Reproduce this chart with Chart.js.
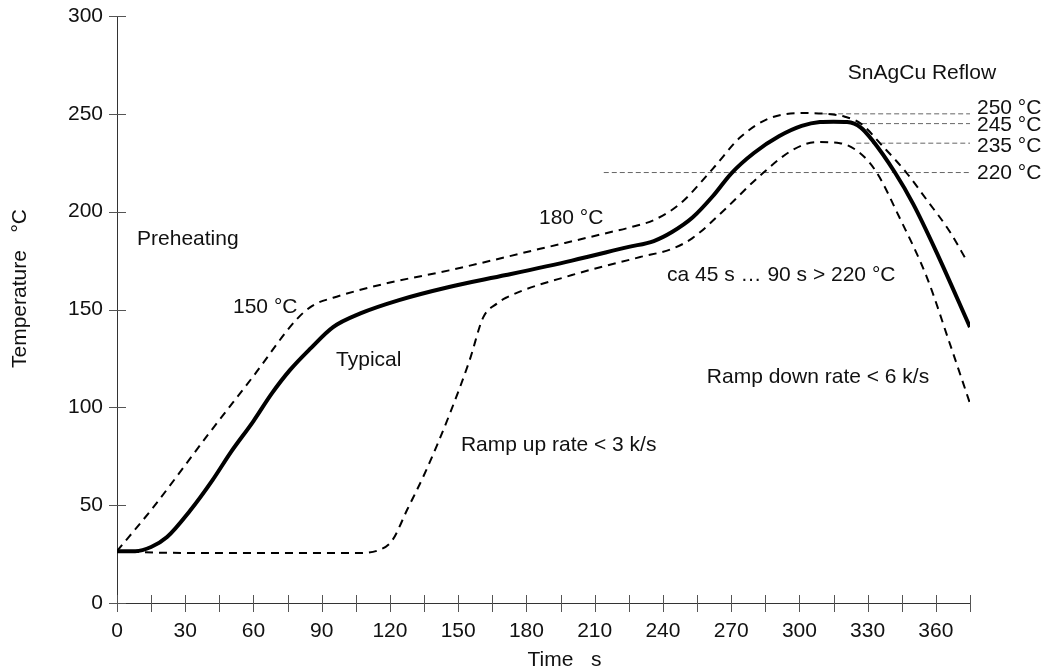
<!DOCTYPE html>
<html>
<head>
<title>SnAgCu Reflow</title>
<script src="https://cdn.jsdelivr.net/npm/chart.js@4.4.0/dist/chart.umd.min.js"></script>
<style>body{margin:0;background:#fff}</style>
</head>
<body>
<canvas id="reflow" width="1047" height="671"></canvas>
<script>
// typical profile (solid)
var typTime = [0, 8, 15, 22, 32, 42, 50, 60, 68, 76, 85, 95, 107, 124, 146, 171, 200, 225, 236, 244, 253, 262, 270, 280, 291, 301, 309, 315, 321, 327, 332, 342, 350, 360, 375];
var typTemp = [26.5, 26.5, 28.6, 33.7, 47, 62.8, 77, 93, 107, 119, 130, 141, 148, 154.8, 161.5, 167.6, 175, 182, 185, 189.6, 197, 208, 219.5, 230, 238.5, 243.8, 245.8, 246, 245.8, 243, 236.6, 220, 204, 180, 141];
// upper limit (dashed)
var maxTime = [0, 16, 40, 60, 79, 86, 95, 119, 146, 186, 215, 227, 236, 247.5, 262, 274, 287, 303, 312, 320, 327, 337, 347, 356, 366, 374];
var maxTemp = [26.5, 49, 86, 116, 145, 152, 156, 163.5, 170, 181, 189, 192.4, 195.7, 204, 222, 238, 247.8, 250.4, 250, 248.5, 245, 233, 220, 206, 190, 174];
// lower limit (dashed)
var minTime = [0, 20, 60, 105, 115, 121, 127.5, 136, 146.4, 155, 161, 167, 171, 200, 230, 244, 253, 268, 282, 297, 307.7, 317.8, 326.6, 334, 344, 356, 366, 375];
var minTemp = [26.5, 25.7, 25.5, 25.5, 27, 32, 47.5, 68, 97, 124, 146, 153, 156, 167.6, 176.8, 181, 186.5, 202, 217.7, 231.5, 235.6, 235, 230, 220, 197, 166.6, 133, 102];
// reference levels
var refTemps = [250, 245, 235, 220];
var refFrom = [310, 324, 325, 214];
var refTo = 375;

var FONT = '"Liberation Sans", Arial, sans-serif';
Chart.defaults.font.family = FONT;
Chart.defaults.font.size = 21;
Chart.defaults.color = '#111';

// free text, placed in data units
var notes = [
  {text: 'SnAgCu Reflow', x: 321.3, y: 270.8},
  {text: 'Preheating', x: 8.8, y: 186},
  {text: '150 °C', x: 51, y: 151.3},
  {text: 'Typical', x: 96.3, y: 124.2},
  {text: '180 °C', x: 185.5, y: 196.7},
  {text: 'ca 45 s … 90 s > 220 °C', x: 241.8, y: 167.6},
  {text: 'Ramp up rate < 3 k/s', x: 151.2, y: 80.7},
  {text: 'Ramp down rate < 6 k/s', x: 259.3, y: 115.5}
];
var refLabelDy = [-6, 2, 3, 1];

function pts(ts, vs) {
  return ts.map(function (t, i) { return {x: t, y: vs[i]}; });
}

var datasets = [
  {data: pts(typTime, typTemp), borderColor: '#000', borderWidth: 4, cubicInterpolationMode: 'monotone'},
  {data: pts(maxTime, maxTemp), borderColor: '#000', borderWidth: 2, borderDash: [8, 6], cubicInterpolationMode: 'monotone'},
  {data: pts(minTime, minTemp), borderColor: '#000', borderWidth: 2, borderDash: [8, 6], cubicInterpolationMode: 'monotone'}
];
refTemps.forEach(function (v, i) {
  datasets.push({data: [{x: refFrom[i], y: v}, {x: refTo, y: v}], borderColor: '#666', borderWidth: 1, borderDash: [5, 3]});
});

var decor = {
  id: 'decor',
  afterDraw: function (chart) {
    var ctx = chart.ctx, xs = chart.scales.x, ys = chart.scales.y;
    ctx.save();
    // crossing tick marks
    ctx.strokeStyle = '#555';
    ctx.lineWidth = 1;
    ctx.beginPath();
    xs.ticks.forEach(function (t) {
      var px = Math.round(xs.getPixelForValue(t.value)) + 0.5;
      ctx.moveTo(px, xs.top - 8);
      ctx.lineTo(px, xs.top + 9);
    });
    ys.ticks.forEach(function (t) {
      var py = Math.round(ys.getPixelForValue(t.value)) + 0.5;
      ctx.moveTo(ys.right - 8, py);
      ctx.lineTo(ys.right + 9, py);
    });
    ctx.stroke();

    ctx.fillStyle = '#111';
    ctx.font = '21px ' + FONT;
    ctx.textBaseline = 'middle';
    ctx.textAlign = 'left';
    notes.forEach(function (n) {
      ctx.fillText(n.text, xs.getPixelForValue(n.x), ys.getPixelForValue(n.y));
    });
    refTemps.forEach(function (v, i) {
      ctx.fillText(v + ' °C', xs.getPixelForValue(refTo) + 7, ys.getPixelForValue(v) + refLabelDy[i]);
    });

    // axis titles
    ctx.textAlign = 'center';
    ctx.fillText('Time   s', (chart.chartArea.left + chart.chartArea.right) / 2 + 21, 660);
    ctx.translate(20, (chart.chartArea.top + chart.chartArea.bottom) / 2 - 21);
    ctx.rotate(-Math.PI / 2);
    ctx.fillText('Temperature   °C', 0, 0);
    ctx.restore();
  }
};

new Chart(document.getElementById('reflow'), {
  type: 'line',
  data: {datasets: datasets},
  options: {
    responsive: false,
    animation: false,
    elements: {point: {radius: 0}, line: {fill: false}},
    layout: {padding: {left: 0, right: 77, top: 16, bottom: 0}},
    plugins: {legend: {display: false}, tooltip: {enabled: false}},
    scales: {
      x: {
        type: 'linear', min: 0, max: 375,
        ticks: {
          stepSize: 15, autoSkip: false, maxRotation: 0, padding: 16,
          callback: function (v) { return v % 30 === 0 ? String(v) : ''; }
        },
        grid: {drawOnChartArea: false, drawTicks: false},
        border: {color: '#333', width: 1},
        afterFit: function (s) { s.height = 68; }
      },
      y: {
        min: 0, max: 300,
        ticks: {stepSize: 50, padding: 0},
        // invisible tick length keeps labels clear of the drawn crossing ticks
        grid: {drawOnChartArea: false, drawTicks: true, tickLength: 14, tickColor: 'rgba(0,0,0,0)'},
        border: {color: '#333', width: 1},
        afterFit: function (s) { s.width = 117; }
      }
    }
  },
  plugins: [decor]
});
</script>
</body>
</html>
